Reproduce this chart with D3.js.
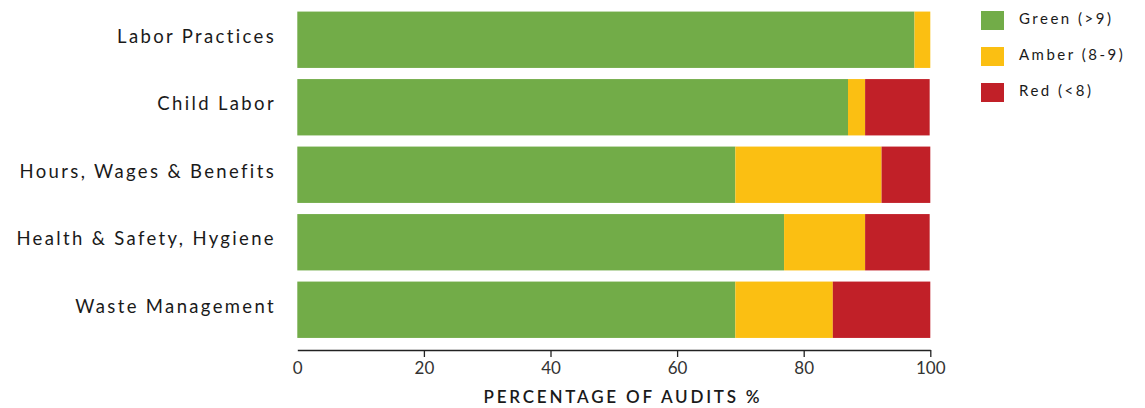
<!DOCTYPE html>
<html><head><meta charset="utf-8">
<script src="https://cdn.jsdelivr.net/npm/d3@7"></script>
<style>
body{margin:0;background:#fff;}
text{font-family:Lato, "Open Sans", sans-serif;}
</style></head>
<body><svg id="c" width="1145" height="408"></svg>
<script>
const categories = ["Labor Practices","Child Labor","Hours, Wages & Benefits","Health & Safety, Hygiene","Waste Management"];
const greenVals = [97.5, 87.0, 69.2, 76.9, 69.2];
const amberVals = [2.5, 2.7, 23.1, 12.8, 15.4];
const redVals   = [0.0, 10.2, 7.7, 10.2, 15.4];
const seriesNames = ["Green (>9)","Amber (8-9)","Red (<8)"];
const seriesColors = ["#72ac48","#fbbf12","#c12028"];
const xTicks = [0,20,40,60,80,100];
const xTitle = "PERCENTAGE OF AUDITS %";

const svg = d3.select("#c");
const mLeft = 297.3, mRight = 930.3, mTop = 6, mBottom = 343.5, axisY = 350;

const x = d3.scaleLinear().domain([0,100]).range([mLeft,mRight]);
const y = d3.scaleBand().domain(categories).range([mTop,mBottom]).paddingInner(0.165).paddingOuter(0.0825);

const rows = categories.map((c,i)=>({cat:c, g:greenVals[i], a:amberVals[i], r:redVals[i]}));
const stack = d3.stack().keys(["g","a","r"])(rows);

svg.append("g").selectAll("g").data(stack).join("g")
  .attr("fill",(d,i)=>seriesColors[i])
  .selectAll("rect").data(d=>d).join("rect")
  .attr("x",d=>x(d[0]))
  .attr("width",d=>Math.max(0,x(d[1])-x(d[0])))
  .attr("y",d=>y(d.data.cat))
  .attr("height",y.bandwidth());

// category labels
svg.append("g").selectAll("text").data(categories).join("text")
  .attr("x",276).attr("y",d=>y(d)+y.bandwidth()/2)
  .attr("dy","0.17em").attr("text-anchor","end")
  .attr("font-size",18.5).attr("letter-spacing","2.35px").attr("fill","#1a1a1a")
  .text(d=>d);

// x axis
const ax = svg.append("g").attr("transform",`translate(0,${axisY})`)
  .call(d3.axisBottom(x).tickValues(xTicks).tickSize(7).tickPadding(5).tickSizeOuter(0));
ax.select(".domain").attr("stroke","#222").attr("stroke-width",1.3);
ax.selectAll(".tick line").attr("stroke","#222").attr("stroke-width",1.3)
  .filter(d=>d===0).remove();
ax.selectAll(".tick text").attr("font-size",17).attr("fill","#333")
  .style("font-family","Lato, sans-serif");

svg.append("text").attr("x",623).attr("y",403).attr("text-anchor","middle")
  .attr("font-size",17).attr("font-weight",600).attr("letter-spacing","2.8px").attr("fill","#1a1a1a")
  .text(xTitle);

// legend
const lg = svg.append("g").selectAll("g").data(seriesNames).join("g")
  .attr("transform",(d,i)=>`translate(981,${11+i*36})`);
lg.append("rect").attr("width",23).attr("height",19).attr("fill",(d,i)=>seriesColors[i]);
lg.append("text").attr("x",38).attr("y",9.5).attr("dy","0.2em")
  .attr("font-size",15).attr("letter-spacing","2.5px").attr("fill","#1a1a1a").text(d=>d);
</script></body></html>
